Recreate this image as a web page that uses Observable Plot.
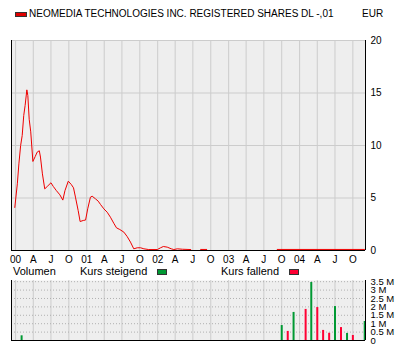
<!DOCTYPE html>
<html><head><meta charset="utf-8">
<script src="https://cdn.jsdelivr.net/npm/d3@7"></script>
<script src="https://cdn.jsdelivr.net/npm/@observablehq/plot@0.6"></script>
<style>
body{margin:0;background:#fff;font-family:"Liberation Sans",Arial,sans-serif;}
#wrap{position:relative;width:405px;height:360px;overflow:hidden;background:#fff}
.t{position:absolute;color:#000;white-space:nowrap;}
.sw{position:absolute;border:1px solid #333;box-sizing:border-box}
#main{position:absolute;left:0;top:0}
#vol{position:absolute;left:0;top:275px}
</style></head>
<body><div id="wrap">
<div class="sw" style="left:15px;top:12px;width:12px;height:5px;background:#e00000"></div>
<div class="t" id="title" style="left:29px;top:8px;font-size:10px;line-height:12px"></div>
<div class="t" id="cur" style="left:362px;top:8px;font-size:10px;line-height:12px"></div>
<div id="main"></div>
<div class="t" id="lv" style="left:13px;top:265px;font-size:11px;line-height:12px"></div>
<div class="t" id="lu" style="left:80px;top:265px;font-size:11px;line-height:12px"></div>
<div class="sw" style="left:157px;top:269px;width:10px;height:6px;background:#009933"></div>
<div class="t" id="ld" style="left:221px;top:265px;font-size:11px;line-height:12px"></div>
<div class="sw" style="left:289px;top:269px;width:10px;height:6px;background:#ff0033"></div>
<div id="vol"></div>
</div>
<script>
const titleText = "NEOMEDIA TECHNOLOGIES INC. REGISTERED SHARES DL -,01";
const currency = "EUR";
const legendVolume = "Volumen";
const legendUp = "Kurs steigend";
const legendDown = "Kurs fallend";

const xDomainStr = ["1999-12-11", "2004-12-05"];
const quarterTicksStr = ["2000-01-01","2000-04-01","2000-07-01","2000-10-01",
  "2001-01-01","2001-04-01","2001-07-01","2001-10-01",
  "2002-01-01","2002-04-01","2002-07-01","2002-10-01",
  "2003-01-01","2003-04-01","2003-07-01","2003-10-01",
  "2004-01-01","2004-04-01","2004-07-01","2004-10-01"];
const quarterLabels = ["00","A","J","O","01","A","J","O","02","A","J","O","03","A","J","O","04","A","J","O"];

const priceTicks = [0, 5, 10, 15, 20];
const priceDates = ["1999-12-28","2000-01-10","2000-01-18","2000-01-27","2000-02-04","2000-02-12","2000-02-19","2000-02-28",
  "2000-03-04","2000-03-11","2000-03-19","2000-03-30","2000-04-11","2000-04-21","2000-05-02","2000-05-08","2000-05-18",
  "2000-05-30","2000-06-12","2000-07-01","2000-07-13","2000-07-29","2000-08-16","2000-08-31","2000-09-11","2000-09-28",
  "2000-10-13","2000-10-25","2000-11-04","2000-11-18","2000-11-28","2000-12-14","2000-12-26","2001-01-06","2001-01-20",
  "2001-01-29","2001-02-15","2001-03-01","2001-03-13","2001-03-30","2001-04-16","2001-05-03","2001-05-20","2001-06-03",
  "2001-06-20","2001-07-11","2001-07-28","2001-08-14","2001-08-31","2001-09-18","2001-10-05","2001-10-22","2001-11-16",
  "2001-12-30","2002-01-16","2002-01-30","2002-02-19","2002-03-12","2002-03-25","2002-04-12","2002-05-08","2002-06-20",
  "2002-07-15","2002-08-10","2002-09-10","2003-01-01","2003-09-08","2004-11-30"];
const priceValues = [4.1,6.35,8.25,10.0,10.95,12.86,13.8,15.3,
  14.76,12.5,11.3,8.48,8.95,9.37,9.5,8.9,7.3,
  5.87,6.1,6.45,6.1,5.7,5.3,4.8,5.7,6.6,
  6.3,5.97,5.08,3.8,2.76,2.86,2.9,3.97,5.08,
  5.17,4.92,4.7,4.38,3.97,3.65,3.17,2.6,2.16,
  2.0,1.75,1.33,0.8,0.16,0.26,0.26,0.16,0.09,
  0.09,0.26,0.38,0.32,0.16,0.09,0.16,0.12,0.09,
  null,0.1,0.1,null,0.1,0.1];

const volDates = ["2000-02-01","2003-10-01","2003-11-01","2003-12-01","2004-02-01","2004-03-01","2004-04-01",
  "2004-05-01","2004-06-01","2004-07-01","2004-08-01","2004-09-01","2004-10-01","2004-12-01"];
const volValues = [0.28,0.89,0.54,1.67,1.85,3.45,1.96,0.6,0.43,2.02,0.77,0.42,0.3,1.13];
const volRising = [true,true,false,true,false,true,false,false,false,true,false,true,false,true];
const volTicks = [0,0.5,1,1.5,2,2.5,3,3.5];
const volTickLabels = ["0","0.5 M","1 M","1.5 M","2 M","2.5 M","3 M","3.5 M"];
const volMax = 3.57;

document.getElementById("title").textContent = titleText;
document.getElementById("cur").textContent = currency;
document.getElementById("lv").textContent = legendVolume;
document.getElementById("lu").textContent = legendUp;
document.getElementById("ld").textContent = legendDown;

const xDomain = xDomainStr.map(s => new Date(s));
const quarterTicks = quarterTicksStr.map(s => new Date(s));
const qLabel = new Map(quarterTicks.map((d, i) => [+d, quarterLabels[i]]));
const priceData = priceDates.map((d, i) => ({date: new Date(d), price: priceValues[i]}));
const volData = volDates.map((d, i) => ({date: new Date(d), v: volValues[i], up: volRising[i]}));
const vLabel = new Map(volTicks.map((t, i) => [t, volTickLabels[i]]));

const style = {fontFamily: '"Liberation Sans", Arial, sans-serif', fontSize: "10px", background: "transparent", color: "#000", overflow: "visible"};

const main = Plot.plot({
  width: 405, height: 270,
  marginTop: 40, marginLeft: 11, marginRight: 40, marginBottom: 20,
  style,
  x: {type: "utc", domain: xDomain, axis: null},
  y: {domain: [0, 20], axis: null},
  marks: [
    Plot.frame({fill: "#eeeeee", stroke: null}),
    Plot.gridX(quarterTicks, {stroke: "#cccccc", strokeOpacity: 1}),
    Plot.gridY(priceTicks.slice(1), {stroke: "#cccccc", strokeOpacity: 1}),
    Plot.line(priceData, {x: "date", y: "price", stroke: "#ee0000", strokeWidth: 1}),
    Plot.ruleY([0], {stroke: "#000"}),
    Plot.ruleX(xDomain, {stroke: "#000"}),
    Plot.axisX(quarterTicks, {tickSize: 0, tickPadding: 5, tickFormat: d => qLabel.get(+d), label: null, fill: "#000"}),
    Plot.axisY(priceTicks, {anchor: "right", tickSize: 0, tickPadding: 5, textAnchor: "start", label: null, fill: "#000"})
  ]
});
document.getElementById("main").appendChild(main);

const vol = Plot.plot({
  width: 405, height: 85,
  marginTop: 5, marginLeft: 11, marginRight: 40, marginBottom: 20,
  style,
  x: {type: "utc", domain: xDomain, axis: null},
  y: {domain: [0, volMax], axis: null},
  marks: [
    Plot.frame({fill: "#eeeeee", stroke: null}),
    Plot.gridX(quarterTicks, {stroke: "#cccccc", strokeOpacity: 1}),
    Plot.gridY(volTicks.slice(1), {stroke: "#b0b0b0", strokeOpacity: 1, strokeDasharray: "1,2"}),
    Plot.ruleX(volData.filter(d => d.up), {x: "date", y1: 0, y2: "v", stroke: "#009933", strokeWidth: 2}),
    Plot.ruleX(volData.filter(d => !d.up), {x: "date", y1: 0, y2: "v", stroke: "#ff0033", strokeWidth: 2}),
    Plot.ruleY([0], {stroke: "#000"}),
    Plot.ruleX(xDomain, {stroke: "#000"}),
    Plot.axisY(volTicks, {anchor: "right", tickSize: 0, tickPadding: 5, textAnchor: "start", label: null, fill: "#000", fontSize: 9.5, tickFormat: t => vLabel.get(t)})
  ]
});
document.getElementById("vol").appendChild(vol);
</script>
</body></html>
